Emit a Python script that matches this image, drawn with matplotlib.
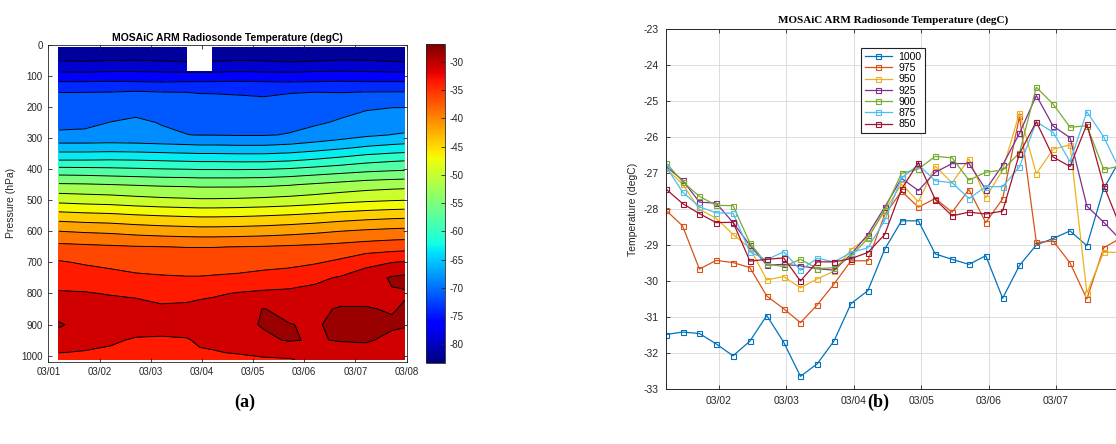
import numpy as np
import pandas as pd
import matplotlib
matplotlib.use("Agg")
import matplotlib.pyplot as plt
import matplotlib.dates as mdates
from matplotlib.colors import Normalize
from matplotlib.cm import ScalarMappable

plt.rcParams['font.family'] = ['Liberation Sans', 'DejaVu Sans']
plt.rcParams['axes.unicode_minus'] = False
plt.rcParams['contour.negative_linestyle'] = 'solid'

nan = np.nan

# ---------------- panel (a): time / pressure cross section ----------------
grid_times = ["2020-03-01 05:00", "2020-03-01 17:00", "2020-03-02 05:00", "2020-03-02 17:00",
              "2020-03-03 05:00", "2020-03-03 17:00", "2020-03-03 23:00", "2020-03-04 05:00",
              "2020-03-04 17:00", "2020-03-05 05:00", "2020-03-05 17:00", "2020-03-06 05:00",
              "2020-03-06 17:00", "2020-03-07 05:00", "2020-03-07 17:00", "2020-03-07 23:00"]
pressure_levels = [8, 30, 60, 85, 120, 150, 200, 250, 290, 330, 370, 410, 450,
                   500, 550, 600, 650, 700, 750, 800, 850, 900, 950, 990, 1012]
# temperature (degC), one row per pressure level, one column per grid time
temp_rows = [
    [-82.9, -82.9, -82.9, -82.9, -82.9, -82.9, nan, -82.9, -82.9, -82.9, -82.9, -82.9, -82.9, -82.9, -82.9, -82.9],
    [-81.6, -81.5, -81.6, -81.7, -81.6, -81.5, nan, -81.6, -81.6, -81.5, -81.6, -81.7, -81.6, -81.5, -81.6, -81.6],
    [-80.2, -80.3, -80.1, -80.0, -80.2, -80.4, nan, -80.3, -80.1, -80.2, -80.4, -80.2, -80.0, -80.1, -80.3, -80.4],
    [-78.1, -78.2, -78.0, -78.0, -78.1, -78.2, -78.2, -78.2, -78.0, -78.1, -78.2, -78.0, -77.9, -78.0, -78.1, -78.1],
    [-75.1, -75.1, -75.0, -75.1, -75.2, -75.1, -75.1, -75.1, -75.0, -75.1, -75.2, -75.1, -75.0, -75.1, -75.1, -75.1],
    [-72.6, -72.6, -72.6, -72.5, -72.6, -72.6, -72.7, -72.7, -72.8, -73.0, -72.7, -72.6, -72.7, -72.6, -72.6, -72.6],
    [-71.5, -71.3, -70.8, -70.3, -70.6, -71.2, -71.4, -71.5, -71.6, -71.6, -71.4, -71.0, -70.5, -70.1, -69.9, -69.9],
    [-70.5, -70.3, -69.8, -69.6, -69.9, -70.3, -70.5, -70.6, -70.7, -70.7, -70.5, -70.1, -69.6, -69.0, -68.6, -68.4],
    [-69.4, -69.4, -69.3, -69.4, -69.6, -69.8, -69.9, -69.9, -70.0, -70.0, -69.7, -69.1, -68.4, -67.6, -67.1, -66.9],
    [-66.0, -66.0, -65.9, -66.0, -66.2, -66.4, -66.5, -66.5, -66.6, -66.6, -66.3, -65.7, -65.0, -64.2, -63.7, -63.5],
    [-61.9, -61.9, -61.8, -61.9, -62.1, -62.3, -62.4, -62.4, -62.5, -62.5, -62.2, -61.6, -60.9, -60.1, -59.6, -59.4],
    [-57.3, -57.4, -57.6, -57.8, -58.0, -58.1, -58.2, -58.2, -58.2, -58.1, -57.8, -57.3, -56.8, -56.3, -56.0, -55.9],
    [-53.4, -53.5, -53.7, -53.9, -54.1, -54.2, -54.3, -54.3, -54.3, -54.2, -53.9, -53.4, -52.9, -52.4, -52.1, -52.0],
    [-49.2, -49.5, -49.7, -50.1, -50.4, -50.6, -50.7, -50.7, -50.6, -50.4, -50.1, -49.7, -49.2, -48.8, -48.5, -48.4],
    [-44.5, -44.8, -45.0, -45.4, -45.7, -45.9, -46.0, -46.0, -45.9, -45.7, -45.4, -45.0, -44.5, -44.1, -43.8, -43.7],
    [-40.3, -40.6, -40.8, -41.2, -41.5, -41.7, -41.8, -41.8, -41.7, -41.5, -41.2, -40.8, -40.3, -39.9, -39.6, -39.5],
    [-36.9, -37.1, -37.3, -37.5, -37.6, -37.7, -37.7, -37.7, -37.6, -37.5, -37.3, -37.1, -36.8, -36.4, -36.1, -36.0],
    [-34.7, -35.2, -35.6, -35.9, -36.0, -36.1, -36.1, -36.1, -36.0, -35.9, -35.7, -35.2, -34.4, -33.0, -32.3, -32.0],
    [-33.4, -33.6, -34.0, -34.5, -34.7, -34.8, -34.8, -34.7, -34.5, -34.0, -33.6, -32.8, -32.0, -30.9, -29.3, -29.0],
    [-32.0, -32.1, -32.4, -32.6, -32.8, -32.9, -32.7, -32.6, -32.1, -31.8, -31.7, -31.5, -31.0, -30.5, -29.8, -29.8],
    [-31.0, -31.1, -31.2, -31.5, -32.0, -31.8, -31.6, -31.3, -30.6, -29.5, -30.4, -30.2, -29.3, -29.4, -29.8, -29.3],
    [-29.3, -30.5, -30.6, -30.8, -31.0, -30.9, -30.8, -30.5, -30.2, -29.4, -29.5, -29.9, -28.8, -29.0, -29.2, -29.4],
    [-30.6, -31.0, -31.8, -32.6, -32.7, -32.5, -31.8, -31.5, -31.0, -30.0, -29.4, -29.8, -29.4, -29.3, -30.2, -30.3],
    [-32.2, -32.5, -32.8, -33.2, -33.3, -33.2, -32.6, -32.5, -32.0, -31.8, -31.5, -31.2, -31.0, -30.6, -31.0, -31.0],
    [-34.0, -34.2, -34.5, -34.6, -34.6, -34.5, -34.0, -33.8, -33.3, -32.5, -32.4, -31.8, -31.6, -31.6, -31.6, -31.6],
]
temp_min, temp_max = -83.25, -26.9
n_levels = 20
cbar_ticks = [-80, -75, -70, -65, -60, -55, -50, -45, -40, -35, -30]
pressure_ticks = list(range(0, 1001, 100))

# ---------------- panel (b): low level temperatures ----------------
first_launch = "2020-03-01 05:00"
n_launches = 28
level_names = ["1000", "975", "950", "925", "900", "875", "850"]
t1000 = [-31.48, -31.41, -31.45, -31.74, -32.07, -31.66, -30.95, -31.69, -32.64, -32.29, -31.65, -30.62, -30.26, -29.11,
         -28.32, -28.32, -29.24, -29.39, -29.53, -29.29, -30.47, -29.56, -28.99, -28.81, -28.60, -29.01, -27.42, -26.60]
t975 = [-28.02, -28.46, -29.66, -29.42, -29.48, -29.62, -30.41, -30.76, -31.15, -30.65, -30.07, -29.43, -29.43, -28.15,
        -27.50, -27.94, -27.70, -28.08, -27.45, -28.37, -27.71, -25.42, -28.92, -28.88, -29.49, -30.49, -29.07, -28.80]
t950 = [-26.86, -27.30, -28.00, -28.25, -28.70, -29.08, -29.96, -29.87, -30.18, -29.93, -29.72, -29.12, -28.78, -28.05,
        -27.30, -27.79, -26.80, -27.27, -26.60, -27.68, -26.91, -25.32, -27.01, -26.33, -26.21, -30.32, -29.19, -29.20]
t925 = [-26.80, -27.19, -27.80, -27.83, -28.37, -29.00, -29.55, -29.53, -29.57, -29.65, -29.69, -29.25, -28.70, -27.94,
        -27.14, -27.48, -26.97, -26.73, -26.73, -27.45, -26.77, -25.89, -24.84, -25.69, -26.01, -27.91, -28.36, -28.85]
t900 = [-26.70, -27.23, -27.64, -27.89, -27.90, -28.94, -29.52, -29.59, -29.39, -29.65, -29.62, -29.30, -28.81, -28.01,
        -27.00, -26.88, -26.53, -26.57, -27.19, -26.97, -26.91, -26.43, -24.61, -25.08, -25.72, -25.68, -26.89, -26.80]
t875 = [-26.80, -27.52, -27.93, -28.10, -28.11, -29.19, -29.40, -29.18, -29.69, -29.36, -29.46, -29.20, -29.07, -28.31,
        -27.13, -26.76, -27.21, -27.26, -27.70, -27.37, -27.37, -26.82, -25.57, -25.86, -26.68, -25.29, -25.99, -26.95]
t850 = [-27.43, -27.84, -28.12, -28.37, -28.36, -29.44, -29.39, -29.35, -29.99, -29.46, -29.46, -29.37, -29.20, -28.70,
        -27.44, -26.70, -27.73, -28.18, -28.08, -28.13, -28.05, -26.45, -25.57, -26.55, -26.81, -25.64, -27.34, -28.50]
series = [t1000, t975, t950, t925, t900, t875, t850]
series_colors = ["#0072BD", "#D95319", "#EDB120", "#7E2F8E", "#77AC30", "#4DBEEE", "#A2142F"]

title = "MOSAiC ARM Radiosonde Temperature (degC)"
txt_col = "#262626"

fig = plt.figure(figsize=(11.16, 4.44), dpi=100)

# ---- (a) ----
ax1 = fig.add_axes([0.0433, 0.1849, 0.3211, 0.7144])
X = mdates.date2num(pd.to_datetime(grid_times))
Z = np.ma.masked_invalid(np.array(temp_rows))
levels = np.linspace(temp_min, temp_max, n_levels + 2)
norm = Normalize(temp_min, temp_max)
ax1.contourf(X, pressure_levels, Z, levels=levels, cmap="jet", norm=norm, corner_mask=False)
ax1.contour(X, pressure_levels, Z, levels=levels[1:-1], colors="k", linewidths=0.7,
            linestyles="solid", corner_mask=False)
ax1.set_xlim(mdates.date2num(pd.Timestamp("2020-03-01")), mdates.date2num(pd.Timestamp("2020-03-08")))
ax1.set_ylim(1020, 0)
ax1.set_yticks(pressure_ticks)
ax1.xaxis.set_major_locator(mdates.DayLocator())
ax1.xaxis.set_major_formatter(mdates.DateFormatter("%m/%d"))
ax1.set_ylabel("Pressure (hPa)", fontsize=7.5, color=txt_col, labelpad=4)
ax1.set_title(title, fontsize=7.5, fontweight="bold", pad=3)
ax1.tick_params(direction="in", length=3, width=0.6, top=True, right=True,
                labelsize=7, colors=txt_col, pad=4)
for s in ax1.spines.values():
    s.set_color(txt_col)
    s.set_linewidth(0.6)

cax = fig.add_axes([0.3817, 0.1831, 0.0170, 0.7171])
cb = fig.colorbar(ScalarMappable(norm=norm, cmap="jet"), cax=cax)
cb.set_ticks(cbar_ticks)
cb.ax.tick_params(direction="in", length=3, width=0.6, labelsize=7, colors=txt_col)
cb.outline.set_edgecolor(txt_col)
cb.outline.set_linewidth(0.6)

# ---- (b) ----
ax2 = fig.add_axes([0.5965, 0.1232, 0.4076, 0.8108])
launch_times = pd.date_range(first_launch, periods=n_launches, freq="6h")
for vals, name, col in zip(series, level_names, series_colors):
    ax2.plot(launch_times, vals, color=col, lw=0.9, marker="s", ms=3.6,
             mfc="none", mew=0.8, label=name)
ax2.set_xlim(launch_times[0], launch_times[-1])
ax2.set_ylim(-33, -23)
ax2.set_yticks(range(-33, -22))
ax2.xaxis.set_major_locator(mdates.DayLocator())
ax2.xaxis.set_major_formatter(mdates.DateFormatter("%m/%d"))
ax2.grid(True, color="#dcdcdc", lw=0.7)
ax2.set_axisbelow(True)
ax2.set_ylabel("Temperature (degC)", fontsize=7.5, color=txt_col, labelpad=4)
ax2.set_title(title, fontsize=8, fontweight="bold", family="Liberation Serif", pad=5)
ax2.tick_params(direction="in", length=3, width=0.6, top=True, right=True,
                labelsize=7.5, colors=txt_col, pad=5)
for s in ax2.spines.values():
    s.set_color(txt_col)
    s.set_linewidth(0.7)
leg = ax2.legend(loc="upper left", bbox_to_anchor=(0.418, 0.962), fontsize=7.5,
                 frameon=True, fancybox=False, framealpha=1, edgecolor="#222222",
                 handlelength=2.6, labelspacing=0.12, borderpad=0.35, handletextpad=0.6)
leg.get_frame().set_linewidth(0.8)

fig.text(0.2195, 0.094, "(a)", ha="center", va="center", fontsize=13,
         family="Liberation Serif", fontweight="bold")
fig.text(0.787, 0.094, "(b)", ha="center", va="center", fontsize=13,
         family="Liberation Serif", fontweight="bold")

fig.savefig("out.png", dpi=100)
